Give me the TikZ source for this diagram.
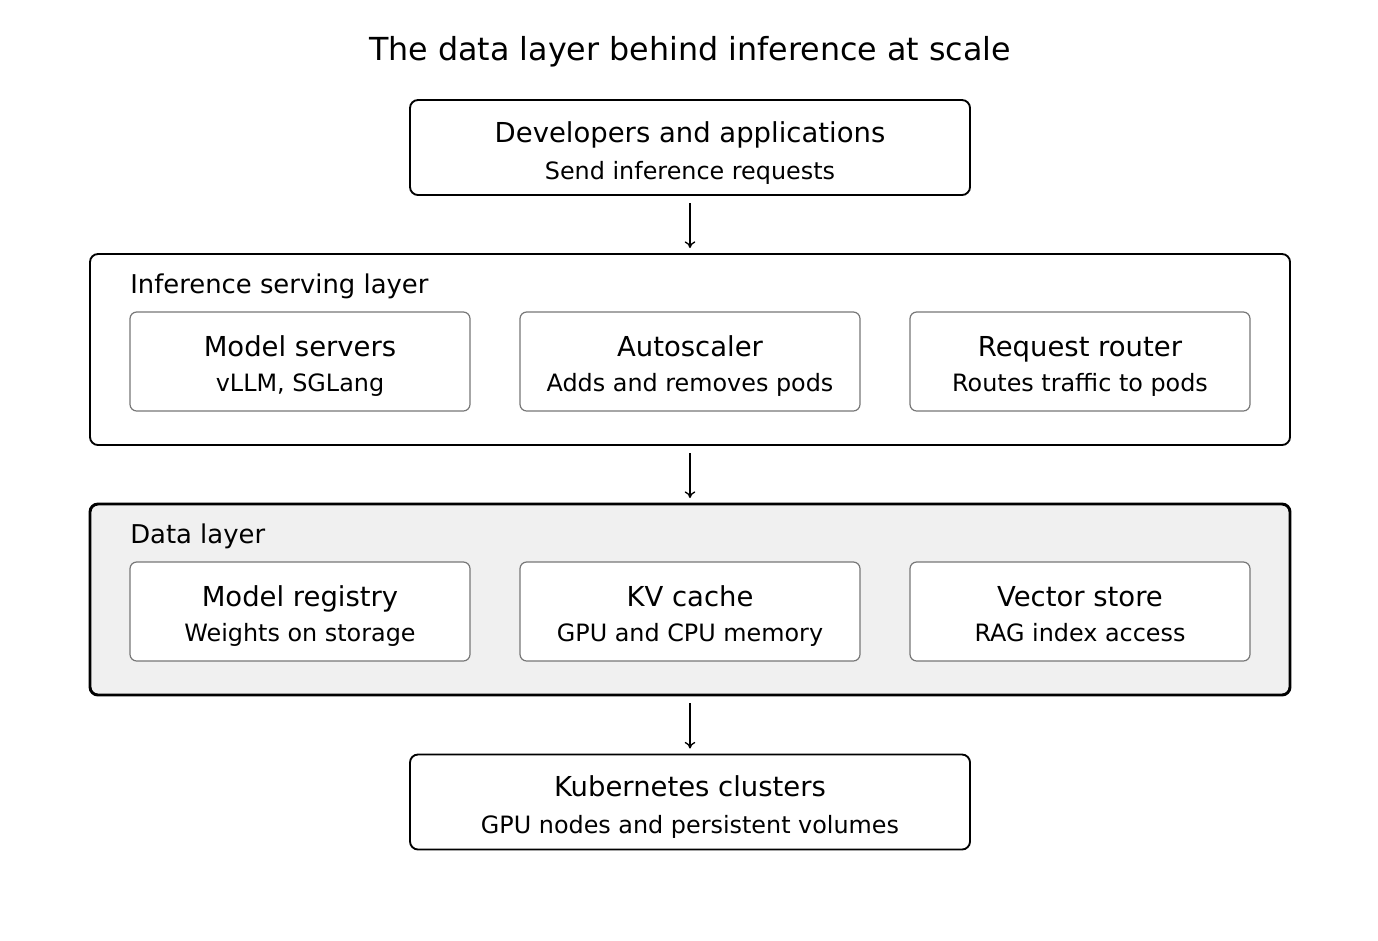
\documentclass[tikz,border=0pt]{standalone}
\usepackage{fontspec}
\setmainfont{DejaVu Sans}
\usetikzlibrary{arrows.meta}
\definecolor{layerfill}{HTML}{F0F0F0}
\definecolor{innerdraw}{HTML}{777777}
\tikzset{
  box/.style={rectangle, inner sep=0pt, outer sep=0pt},
  outerbox/.style={box, draw=black, line width=1.4pt, rounded corners=6pt, fill=white},
  layerbox/.style={outerbox, minimum width=900pt, minimum height=143.25pt},
  datalayer/.style={layerbox, line width=2.2pt, fill=layerfill},
  endbox/.style={outerbox, minimum width=420pt, minimum height=71.25pt},
  innerbox/.style={box, draw=innerdraw, line width=0.9pt, rounded corners=5pt, fill=white, minimum width=255pt, minimum height=74.25pt},
  txt/.style={text height=0.72em, text depth=0pt, inner sep=0pt, yshift=-4pt},
  ttl/.style={txt, font=\fontsize{20.6}{24}\selectfont, anchor=center},
  sub/.style={txt, font=\fontsize{17.9}{21}\selectfont, anchor=center},
  lbl/.style={txt, font=\fontsize{19.4}{23}\selectfont, anchor=west},
  flow/.style={-{To[length=5pt,width=8pt]}, line width=1pt, shorten <=6pt, shorten >=4.5pt},
}
\begin{document}
\begin{tikzpicture}[x=0.75pt,y=-0.75pt]
\useasboundingbox (0,0) rectangle (1378,940);
\node[txt, font=\fontsize{23.8}{28}\selectfont] (title) at (690,50) {The data layer behind inference at scale};

% top
\node[endbox] (dev) at (690,147.5) {};
\node[ttl] (devt) at (690,132) {Developers and applications};
\node[sub] (devs) at (690,169) {Send inference requests};

% serving layer
\node[layerbox] (serv) at (690,349.5) {};
\node[lbl] (servl) at (130,283) {Inference serving layer};
\foreach \x/\n/\t/\s in {300/ms/Model servers/{vLLM, SGLang},690/as/Autoscaler/Adds and removes pods,1080/rr/Request router/Routes traffic to pods}{
  \node[innerbox] (\n) at (\x,361.5) {};
  \node[ttl] (\n t) at (\x,346) {\t};
  \node[sub] (\n s) at (\x,381) {\s};
}

% data layer
\node[datalayer] (data) at (690,599.5) {};
\node[lbl] (datal) at (130,533) {Data layer};
\foreach \x/\n/\t/\s in {300/mr/Model registry/Weights on storage,690/kv/KV cache/GPU and CPU memory,1080/vs/Vector store/RAG index access}{
  \node[innerbox] (\n) at (\x,611.5) {};
  \node[ttl] (\n t) at (\x,596) {\t};
  \node[sub] (\n s) at (\x,631) {\s};
}

% k8s
\node[endbox] (k8) at (690,802) {};
\node[ttl] (k8t) at (690,786) {Kubernetes clusters};
\node[sub] (k8s) at (690,823) {GPU nodes and persistent volumes};

\draw[flow] (dev.south) -- (serv.north);
\draw[flow] (serv.south) -- (data.north);
\draw[flow] (data.south) -- (k8.north);
\end{tikzpicture}
\end{document}
